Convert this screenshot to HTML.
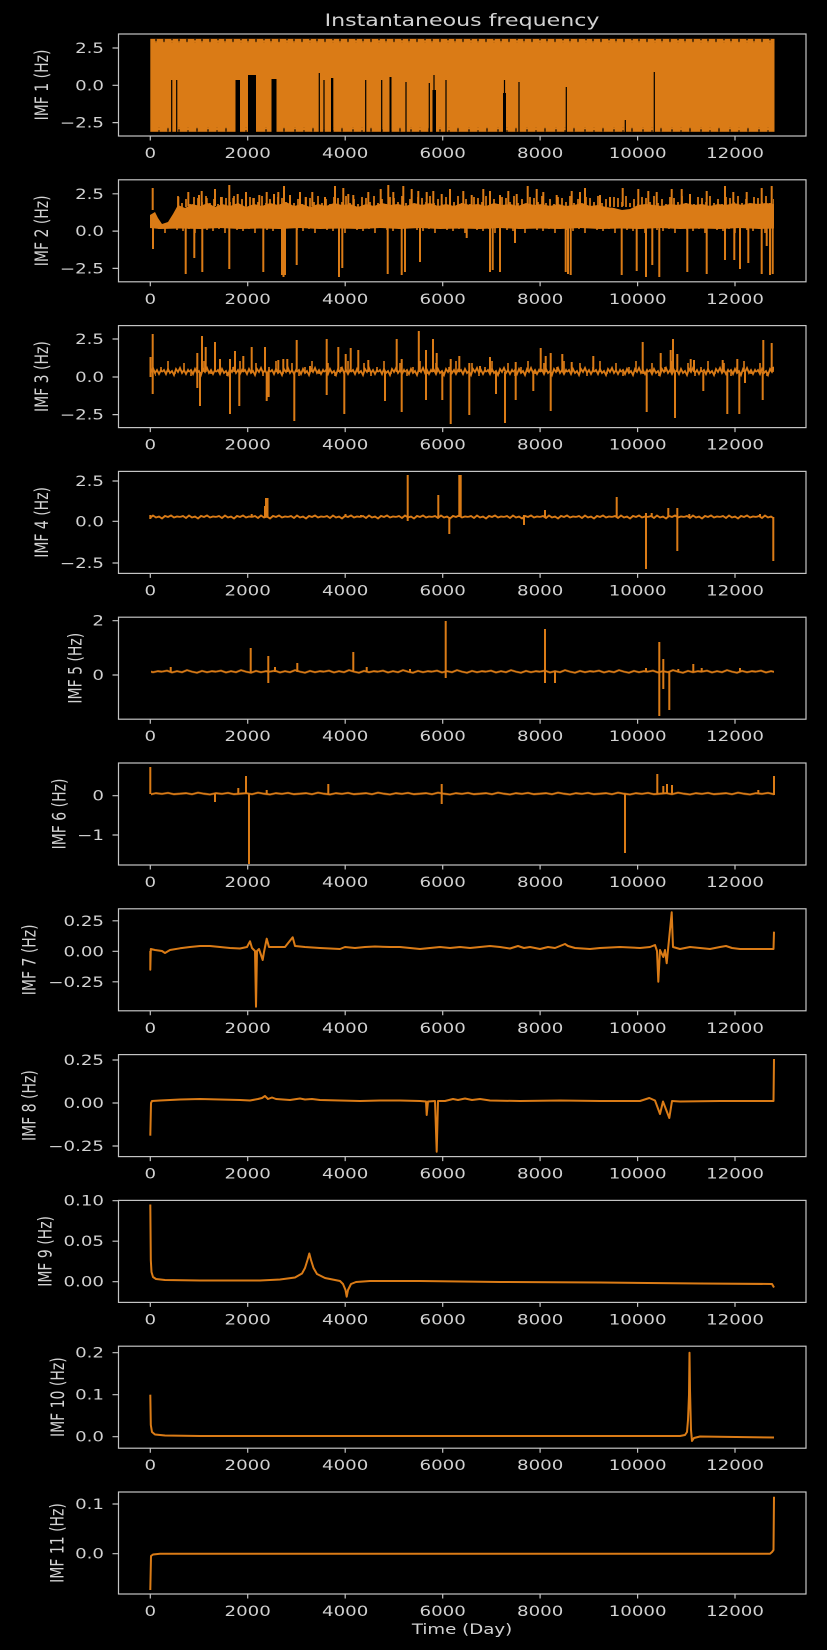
<!DOCTYPE html>
<html><head><meta charset="utf-8">
<style>
html,body{margin:0;padding:0;background:#000;}
svg{display:block}
text{font-family:"DejaVu Sans","Liberation Sans",sans-serif;fill:#d2d2d2;font-size:14px}
</style></head>
<body>
<svg width="827" height="1650" viewBox="0 0 827 1650" xmlns="http://www.w3.org/2000/svg">
<rect x="0" y="0" width="827" height="1650" fill="#000"/>
<defs>
<pattern id="p1t" patternUnits="userSpaceOnUse" x="0" y="38.8" width="23" height="4">
<path d="M3 0V3M11 0V1.5M18 0V2.5" stroke="#000" stroke-width="1.2" fill="none"/>
</pattern>
<pattern id="p1b" patternUnits="userSpaceOnUse" x="0" y="127.8" width="29" height="4">
<path d="M5 4V1.5M14 4V2.5M23 4V0.5" stroke="#000" stroke-width="1.2" fill="none"/>
</pattern>
<pattern id="p2u" patternUnits="userSpaceOnUse" x="0" y="194" width="28" height="13">
<path d="M2 13V4M6 13V8M10 13V2M14 13V9M18 13V5M22 13V10M26 13V3" stroke="#da7b16" stroke-width="1.7" fill="none"/>
</pattern>
<pattern id="p2l" patternUnits="userSpaceOnUse" x="0" y="226" width="30" height="8">
<path d="M3 0V5M9 0V3M15 0V7M21 0V2M27 0V4" stroke="#da7b16" stroke-width="1.6" fill="none"/>
</pattern>
<pattern id="p3" patternUnits="userSpaceOnUse" x="0" y="364" width="27" height="16">
<polyline points="0,8 2,6 4,10 6,5 8,9 10,7 12,11 14,5 16,8 18,4 20,9 22,6 24,10 26,6 27,8" fill="none" stroke="#da7b16" stroke-width="1.8"/>
</pattern>
<pattern id="p3s" patternUnits="userSpaceOnUse" x="0" y="358" width="36" height="28">
<path d="M4 14V5M11 14V18M17 14V9M24 14V3M31 14V16" stroke="#da7b16" stroke-width="1.6" fill="none"/>
</pattern>
<pattern id="p4" patternUnits="userSpaceOnUse" x="0" y="513" width="36" height="8">
<polyline points="0,4 3,3 6,5 9,2.5 12,4.5 15,3.5 18,5.5 21,3 24,4 27,2.5 30,4.5 33,3.5 36,4" fill="none" stroke="#da7b16" stroke-width="1.9"/>
</pattern>
<pattern id="p5" patternUnits="userSpaceOnUse" x="0" y="667.7" width="54" height="8">
<polyline points="0,4 5,3 10,4.8 15,3.5 20,4.5 25,2.5 30,4 35,5 40,3.2 45,4.5 50,3.5 54,4" fill="none" stroke="#da7b16" stroke-width="1.9"/>
</pattern>
<pattern id="p6" patternUnits="userSpaceOnUse" x="0" y="789.7" width="60" height="8">
<polyline points="0,4 6,3.5 12,4.5 18,3 24,4 30,4.8 36,3.5 42,4.2 48,3.2 54,4.5 60,4" fill="none" stroke="#da7b16" stroke-width="1.9"/>
</pattern>
</defs>

<!-- ===== Panel 1 data ===== -->
<rect x="150.3" y="38.8" width="624.2" height="93" fill="#da7b16"/>
<rect x="151" y="38.8" width="623" height="4" fill="url(#p1t)"/>
<rect x="151" y="127.8" width="623" height="4" fill="url(#p1b)"/>
<g fill="#000">
<rect x="235.5" y="80" width="4.5" height="52"/>
<rect x="248" y="75" width="8" height="57"/>
<rect x="271.5" y="79" width="5" height="53"/>
<rect x="331" y="78" width="2.3" height="54"/>
<rect x="389.5" y="77" width="2" height="55"/>
<rect x="432.5" y="90" width="3.5" height="42"/>
<rect x="503" y="93" width="3" height="39"/>
</g>
<path d="M171.7 80V132M176.7 80V132M319.3 73V132M324 80V132M365.7 80V132M381.7 80V132M406 82V132M429.3 83V132M434 75V132M446 80V132M504.5 80V132M519 82V132M566.3 87V132M654.3 72V132M625.3 120V132" stroke="#000" stroke-width="1.2" fill="none"/>

<!-- ===== Panel 2 data ===== -->
<polygon fill="#da7b16" points="150,215 155,212 158,218 162,224 168,222 173,214 178,205 185,208 192,204 200,206 208,203 215,207 222,204 230,206 238,203 246,207 254,204 262,206 270,203 278,205 286,202 294,206 302,204 310,207 318,204 326,206 334,203 342,205 350,204 358,207 366,204 374,206 382,203 390,205 398,204 406,206 414,203 422,205 430,203 438,206 446,204 454,206 462,203 470,205 478,204 486,206 494,203 502,205 510,204 518,206 526,203 534,205 542,204 550,206 558,204 566,206 574,205 582,203 590,206 598,205 606,207 614,208 622,210 630,209 638,205 646,204 654,205 662,206 670,204 678,205 686,203 694,205 702,204 710,206 718,204 726,205 734,203 742,205 750,203 758,204 766,203 774,204 774,228.5 760,229 740,228 720,229 700,228.5 680,229 660,228 640,229 620,228.5 600,229 580,228 560,229 540,228.5 520,229 500,228 480,229 460,228.5 440,229 420,228 400,229 380,228 360,229 340,228.5 320,229 300,228 280,229 260,228.5 240,229 220,228 200,229 180,228.5 160,229 150,228"/>
<rect x="175" y="194" width="599" height="13" fill="url(#p2u)"/>
<rect x="152" y="226" width="622" height="8" fill="url(#p2l)"/>
<path fill="none" stroke="#da7b16" stroke-width="2" d="M153 226V249M185.7 226V274M194.3 226V258M202.3 226V272M229.3 226V269M263.3 226V272M282 226V275M283.5 226V277M285 226V275M296.7 226V265M339 226V277M342.3 226V268M387.7 226V274M401.7 226V275M405 226V272M420 226V262M466.7 226V238M490 226V272M492.7 226V270M500 226V272M515 226V243M565.7 226V272M568 226V274M570.7 226V275M621.7 226V275M636.7 226V271M646 226V277M652.3 226V265M659.3 226V277M687.3 226V272M706.7 226V274M725 226V260M734.3 226V260M740 226V269M748.3 226V263M761.7 226V274M766.7 226V246M770 226V275M772.7 226V274
M152.7 210V188M178.3 206V197M188.3 206V192M199 206V195M201.7 206V191M206.7 206V198M215 206V189M221 206V197M229.3 206V185M233.3 206V198M237.7 206V194M246 206V192M253.3 206V198M259.3 206V195M266.7 206V192M274 206V194M278.3 206V192M284 206V186M290 206V195M300 206V192M305.7 206V197M312.3 206V192M325 206V197M335 206V186M343.3 206V188M348.3 206V194M353.3 206V195M368.3 206V192M380.7 206V189M388.3 206V185M393.3 206V192M403.3 206V186M411.7 206V189M418.3 206V191M426.7 206V192M433.3 206V191M441.7 206V194M450 206V189M463.3 206V191M471.7 206V195M483.3 206V189M490 206V191M500 206V195M508.3 206V191M516.7 206V194M527.7 206V186M536.7 206V189M543.3 206V192M556.7 206V195M571.7 206V191M580 206V192M585 206V188M600 206V195M610 206V197M622.7 206V188M638.3 206V189M648.3 206V191M656.7 206V192M671.7 206V189M681.7 206V189M690 206V194M706.7 206V191M725 206V186M733.3 206V192M746.7 206V192M761.7 206V188M771.7 206V186"/>

<!-- ===== Panel 3 data ===== -->
<rect x="155" y="358" width="619" height="28" fill="url(#p3s)"/>
<rect x="151" y="364" width="623" height="16" fill="url(#p3)"/>
<path fill="none" stroke="#da7b16" stroke-width="2" d="M150.5 357V377M152.7 334V394M197.3 353V388M200 372V406M202 336V372M205.7 347V372M215 342V372M220 359V372M230 359V414M235 351V372M239.3 372V406M243.3 356V372M251.7 347V372M265 347V372M266.7 372V401M268.7 372V397M278.3 360V372M283.3 359V372M287.3 359V372M294.3 372V421M296.7 340V372M310 366V372M326.7 339V395M338.3 347V372M344.3 372V414M345.7 354V372M350.7 348V372M358.3 350V372M368.3 360V372M385 372V401M396.7 339V372M401.7 359V412M418.8 331V372M426 350V400M433 339V372M436.7 353V372M442.3 372V400M450.7 359V424M459.3 356V372M469.3 363V415M480 366V372M490 357V372M496 372V394M505 372V423M515.7 362V400M533.3 372V391M540.7 348V372M545.7 356V372M550.7 353V411M562.3 354V372M571.7 362V372M593.3 356V372M642.7 342V372M646.7 372V412M660.7 353V372M670.7 350V372M673 339V372M675 372V418M677.3 354V372M690.7 359V372M694 360V372M703.3 372V391M722.7 360V372M727.3 372V414M737.3 359V372M739.3 372V414M745 372V383M762.7 372V400M763.3 340V372M771.7 343V372"/>

<!-- ===== Panel 4 data ===== -->
<rect x="151" y="513" width="623" height="8" fill="url(#p4)"/>
<path fill="none" stroke="#da7b16" stroke-width="2" d="M150.3 515V519M251.7 514V517M265 506V517M266 498V517M267.5 498V517M345.5 514V517M361 515V517M407.7 475V521M438.3 495V517M449.3 517V534M459.3 475V517M460.7 475V517M524 515V525M545 510V517M616.7 497V517M646 513V569M651.7 513V517M668.3 508V517M677.3 508V551M689.3 514V517M760 514V517M773.3 517V561"/>

<!-- ===== Panel 5 data ===== -->
<rect x="151" y="667.7" width="623" height="8" fill="url(#p5)"/>
<path fill="none" stroke="#da7b16" stroke-width="2" d="M170.7 667V672M250.7 648V672M268.3 656V683M275 667V672M297.3 663V672M353.3 652V672M366.7 667V672M410 669V672M445.7 621V678M545 629V683M555 672V683M646 668V672M659.3 642V716M663.3 659V689M669.3 672V710M678.3 669V672M693.3 664V672M701.7 668V672M740 668V672"/>

<!-- ===== Panel 6 data ===== -->
<rect x="151" y="789.7" width="623" height="8" fill="url(#p6)"/>
<path fill="none" stroke="#da7b16" stroke-width="2" d="M150.3 767V794M215 794V802M238.3 788V794M246 776V794M249 794V864M266.7 790V794M328.3 784V794M441.7 784V804M625 794V853M657.3 774V794M663.3 786V794M667 784V794M672 785V794M758.3 790V794M774 776V795"/>

<!-- ===== Panel 7 data ===== -->
<polyline fill="none" stroke="#da7b16" stroke-width="2" stroke-linejoin="round" points="150.3,951 150.3,969.7 150.8,949 155,950 162,951 165,953 170,950 180,948.3 190,947 200,946 210,946 220,947 230,948 240,948.5 247,947 250,941.3 252,948 255,951 256,1006.7 257,951 259,949 262.7,960 264,952 266.7,938.7 269,947 275,947 285,947 292.7,937.3 295,946 305,947 320,948 340,949 345,947 355,948 365,947 375,946.5 390,947 400,947 420,949 440,947 450,948 460,947 470,948 480,947 490,946 500,947 510,948.5 518,946 524,948 530,947 540,949 548,947 555,948 565,944 568,946 575,948 590,949 600,948 620,947 640,948 650,947 655,945 657,951 658.3,981.7 660,950 663.3,957 665,950 666.7,963.3 668,950 671.7,912.3 673,947 680,949 690,947 700,948 710,949 720,947 726,946 732,948 740,949 760,949 773.5,949 774,931.7"/>

<!-- ===== Panel 8 data ===== -->
<polyline fill="none" stroke="#da7b16" stroke-width="2" stroke-linejoin="round" points="150.3,1135.7 151,1103 152,1101 160,1100.5 180,1099.5 200,1099 220,1099.5 240,1100 250,1100.5 258,1099 262,1098 265,1096 268,1099 272,1097.5 276,1099 290,1100 300,1098.5 305,1099.5 312,1099 320,1100 340,1100.5 360,1101 380,1100.5 400,1100.5 420,1101 426,1101.5 426.7,1115 428,1101.5 435,1101 436.7,1151.7 438,1101 445,1101 453,1099 458,1100 465,1098.5 472,1100 480,1099 490,1100.5 520,1101 560,1100.5 600,1101 640,1101 649.3,1098 655,1100.5 660,1114 663,1101.5 669.3,1118 672,1101 680,1101.5 720,1101 773.5,1101 774,1059"/>

<!-- ===== Panel 9 data ===== -->
<polyline fill="none" stroke="#da7b16" stroke-width="2" stroke-linejoin="round" points="150.3,1204.5 150.8,1260 151.5,1272 153,1277 156,1279 165,1280 200,1280.5 260,1280.5 280,1279.5 295,1277.5 302,1273.5 305,1268 307.5,1260 309.3,1253.5 311,1260 313.5,1268 317,1274 325,1278 335,1280 340,1281 343,1284 345.5,1290 346.7,1296.7 348,1290 351,1284 356,1282 370,1281 420,1281 500,1282 600,1282.5 700,1283.5 772,1284 774,1287.5"/>

<!-- ===== Panel 10 data ===== -->
<polyline fill="none" stroke="#da7b16" stroke-width="2" stroke-linejoin="round" points="150.3,1394.7 150.8,1425 152,1432 155,1434.5 165,1435.5 200,1436 680,1436 685,1435 687,1432 688,1420 689,1395 689.5,1352.7 690,1390 691,1430 692,1441 694,1438 700,1436.5 774,1437.5"/>

<!-- ===== Panel 11 data ===== -->
<polyline fill="none" stroke="#da7b16" stroke-width="2" stroke-linejoin="round" points="150.3,1590 151,1556 153,1554.5 160,1553.8 770,1553.7 772,1552 773.5,1550 774,1496.7"/>

<!-- ===== Spines ===== -->
<g fill="none" stroke="#c4c4c4" stroke-width="1.2">
<rect x="118.5" y="34" width="687.5" height="102"/>
<rect x="118.5" y="179.8" width="687.5" height="102"/>
<rect x="118.5" y="325.6" width="687.5" height="102"/>
<rect x="118.5" y="471.4" width="687.5" height="102"/>
<rect x="118.5" y="617.2" width="687.5" height="102"/>
<rect x="118.5" y="763" width="687.5" height="102"/>
<rect x="118.5" y="908.8" width="687.5" height="102"/>
<rect x="118.5" y="1054.6" width="687.5" height="102"/>
<rect x="118.5" y="1200.4" width="687.5" height="102"/>
<rect x="118.5" y="1346.2" width="687.5" height="102"/>
<rect x="118.5" y="1492" width="687.5" height="102"/>
</g>

<!-- ===== Tick marks ===== -->
<g fill="none" stroke="#c4c4c4" stroke-width="1.2">
<path d="M150.3 136v4.5M247.7 136v4.5M345.2 136v4.5M442.7 136v4.5M540.1 136v4.5M637.6 136v4.5M735 136v4.5"/>
<path d="M150.3 281.8v4.5M247.7 281.8v4.5M345.2 281.8v4.5M442.7 281.8v4.5M540.1 281.8v4.5M637.6 281.8v4.5M735 281.8v4.5"/>
<path d="M150.3 427.6v4.5M247.7 427.6v4.5M345.2 427.6v4.5M442.7 427.6v4.5M540.1 427.6v4.5M637.6 427.6v4.5M735 427.6v4.5"/>
<path d="M150.3 573.4v4.5M247.7 573.4v4.5M345.2 573.4v4.5M442.7 573.4v4.5M540.1 573.4v4.5M637.6 573.4v4.5M735 573.4v4.5"/>
<path d="M150.3 719.2v4.5M247.7 719.2v4.5M345.2 719.2v4.5M442.7 719.2v4.5M540.1 719.2v4.5M637.6 719.2v4.5M735 719.2v4.5"/>
<path d="M150.3 865v4.5M247.7 865v4.5M345.2 865v4.5M442.7 865v4.5M540.1 865v4.5M637.6 865v4.5M735 865v4.5"/>
<path d="M150.3 1010.8v4.5M247.7 1010.8v4.5M345.2 1010.8v4.5M442.7 1010.8v4.5M540.1 1010.8v4.5M637.6 1010.8v4.5M735 1010.8v4.5"/>
<path d="M150.3 1156.6v4.5M247.7 1156.6v4.5M345.2 1156.6v4.5M442.7 1156.6v4.5M540.1 1156.6v4.5M637.6 1156.6v4.5M735 1156.6v4.5"/>
<path d="M150.3 1302.4v4.5M247.7 1302.4v4.5M345.2 1302.4v4.5M442.7 1302.4v4.5M540.1 1302.4v4.5M637.6 1302.4v4.5M735 1302.4v4.5"/>
<path d="M150.3 1448.2v4.5M247.7 1448.2v4.5M345.2 1448.2v4.5M442.7 1448.2v4.5M540.1 1448.2v4.5M637.6 1448.2v4.5M735 1448.2v4.5"/>
<path d="M150.3 1594v4.5M247.7 1594v4.5M345.2 1594v4.5M442.7 1594v4.5M540.1 1594v4.5M637.6 1594v4.5M735 1594v4.5"/>
<path d="M112.5 48h6M112.5 85.3h6M112.5 122.6h6
M112.5 193.8h6M112.5 231.1h6M112.5 268.4h6
M112.5 339h6M112.5 377h6M112.5 414.6h6
M112.5 481h6M112.5 521.3h6M112.5 563h6
M112.5 620.7h6M112.5 675h6
M112.5 795.7h6M112.5 835h6
M112.5 920.8h6M112.5 951.3h6M112.5 981.8h6
M112.5 1060h6M112.5 1103h6M112.5 1146h6
M112.5 1200.7h6M112.5 1241.2h6M112.5 1281.7h6
M112.5 1352.7h6M112.5 1394.7h6M112.5 1436.7h6
M112.5 1504h6M112.5 1553.7h6"/>
</g>

<!-- ===== Horizontal text (stretched 1.3x) ===== -->
<g transform="scale(1.3,1)">
<text x="355.4" y="26" text-anchor="middle" style="font-size:17px">Instantaneous frequency</text>
<text x="355.4" y="1634" text-anchor="middle">Time (Day)</text>

<g text-anchor="middle">
<text x="115.6" y="158">0</text><text x="190.5" y="158">2000</text><text x="265.5" y="158">4000</text><text x="340.5" y="158">6000</text><text x="415.5" y="158">8000</text><text x="490.5" y="158">10000</text><text x="565.4" y="158">12000</text>
<text x="115.6" y="303.8">0</text><text x="190.5" y="303.8">2000</text><text x="265.5" y="303.8">4000</text><text x="340.5" y="303.8">6000</text><text x="415.5" y="303.8">8000</text><text x="490.5" y="303.8">10000</text><text x="565.4" y="303.8">12000</text>
<text x="115.6" y="449.6">0</text><text x="190.5" y="449.6">2000</text><text x="265.5" y="449.6">4000</text><text x="340.5" y="449.6">6000</text><text x="415.5" y="449.6">8000</text><text x="490.5" y="449.6">10000</text><text x="565.4" y="449.6">12000</text>
<text x="115.6" y="595.4">0</text><text x="190.5" y="595.4">2000</text><text x="265.5" y="595.4">4000</text><text x="340.5" y="595.4">6000</text><text x="415.5" y="595.4">8000</text><text x="490.5" y="595.4">10000</text><text x="565.4" y="595.4">12000</text>
<text x="115.6" y="741.2">0</text><text x="190.5" y="741.2">2000</text><text x="265.5" y="741.2">4000</text><text x="340.5" y="741.2">6000</text><text x="415.5" y="741.2">8000</text><text x="490.5" y="741.2">10000</text><text x="565.4" y="741.2">12000</text>
<text x="115.6" y="887">0</text><text x="190.5" y="887">2000</text><text x="265.5" y="887">4000</text><text x="340.5" y="887">6000</text><text x="415.5" y="887">8000</text><text x="490.5" y="887">10000</text><text x="565.4" y="887">12000</text>
<text x="115.6" y="1032.8">0</text><text x="190.5" y="1032.8">2000</text><text x="265.5" y="1032.8">4000</text><text x="340.5" y="1032.8">6000</text><text x="415.5" y="1032.8">8000</text><text x="490.5" y="1032.8">10000</text><text x="565.4" y="1032.8">12000</text>
<text x="115.6" y="1178.6">0</text><text x="190.5" y="1178.6">2000</text><text x="265.5" y="1178.6">4000</text><text x="340.5" y="1178.6">6000</text><text x="415.5" y="1178.6">8000</text><text x="490.5" y="1178.6">10000</text><text x="565.4" y="1178.6">12000</text>
<text x="115.6" y="1324.4">0</text><text x="190.5" y="1324.4">2000</text><text x="265.5" y="1324.4">4000</text><text x="340.5" y="1324.4">6000</text><text x="415.5" y="1324.4">8000</text><text x="490.5" y="1324.4">10000</text><text x="565.4" y="1324.4">12000</text>
<text x="115.6" y="1470.2">0</text><text x="190.5" y="1470.2">2000</text><text x="265.5" y="1470.2">4000</text><text x="340.5" y="1470.2">6000</text><text x="415.5" y="1470.2">8000</text><text x="490.5" y="1470.2">10000</text><text x="565.4" y="1470.2">12000</text>
<text x="115.6" y="1616">0</text><text x="190.5" y="1616">2000</text><text x="265.5" y="1616">4000</text><text x="340.5" y="1616">6000</text><text x="415.5" y="1616">8000</text><text x="490.5" y="1616">10000</text><text x="565.4" y="1616">12000</text>
</g>

<g text-anchor="end">
<text x="80" y="53">2.5</text><text x="80" y="90.3">0.0</text><text x="80" y="127.6">−2.5</text>
<text x="80" y="198.8">2.5</text><text x="80" y="236.1">0.0</text><text x="80" y="273.4">−2.5</text>
<text x="80" y="344">2.5</text><text x="80" y="382">0.0</text><text x="80" y="419.6">−2.5</text>
<text x="80" y="486">2.5</text><text x="80" y="526.3">0.0</text><text x="80" y="568">−2.5</text>
<text x="80" y="625.7">2</text><text x="80" y="680">0</text>
<text x="80" y="800.7">0</text><text x="80" y="840">−1</text>
<text x="80" y="925.8">0.25</text><text x="80" y="956.3">0.00</text><text x="80" y="986.8">−0.25</text>
<text x="80" y="1065">0.25</text><text x="80" y="1108">0.00</text><text x="80" y="1151">−0.25</text>
<text x="80" y="1205.7">0.10</text><text x="80" y="1246.2">0.05</text><text x="80" y="1286.7">0.00</text>
<text x="80" y="1357.7">0.2</text><text x="80" y="1399.7">0.1</text><text x="80" y="1441.7">0.0</text>
<text x="80" y="1509">0.1</text><text x="80" y="1558.7">0.0</text>
</g>
</g>

<!-- ===== Y labels (rotated) ===== -->
<g text-anchor="middle">
<text transform="translate(48,85) scale(1.3,1) rotate(-90)">IMF 1 (Hz)</text>
<text transform="translate(48,230.8) scale(1.3,1) rotate(-90)">IMF 2 (Hz)</text>
<text transform="translate(48,376.6) scale(1.3,1) rotate(-90)">IMF 3 (Hz)</text>
<text transform="translate(48,522.4) scale(1.3,1) rotate(-90)">IMF 4 (Hz)</text>
<text transform="translate(81.7,668.2) scale(1.3,1) rotate(-90)">IMF 5 (Hz)</text>
<text transform="translate(65.7,814) scale(1.3,1) rotate(-90)">IMF 6 (Hz)</text>
<text transform="translate(35.7,959.8) scale(1.3,1) rotate(-90)">IMF 7 (Hz)</text>
<text transform="translate(35.7,1105.6) scale(1.3,1) rotate(-90)">IMF 8 (Hz)</text>
<text transform="translate(51.7,1251.4) scale(1.3,1) rotate(-90)">IMF 9 (Hz)</text>
<text transform="translate(64,1397.2) scale(1.3,1) rotate(-90)">IMF 10 (Hz)</text>
<text transform="translate(63.3,1543) scale(1.3,1) rotate(-90)">IMF 11 (Hz)</text>
</g>
</svg>
</body></html>
